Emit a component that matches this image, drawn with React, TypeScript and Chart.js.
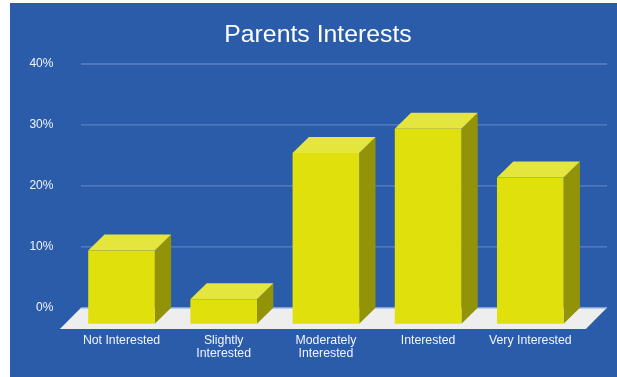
import React, { useEffect, useRef } from "react";
import { Chart, registerables } from "chart.js";

Chart.register(...registerables);

const categories = [
  "Not Interested",
  ["Slightly", "Interested"],
  ["Moderately", "Interested"],
  "Interested",
  "Very Interested",
];
const interestShare = [12, 4, 28, 32, 24];
const chartTitle = "Parents Interests";

const FONT = '"Liberation Sans", Arial, Helvetica, sans-serif';
const PANEL = "#2A5CAA";
const FRONT = "#E0E00D";
const TOP = "#E5E63D";
const SIDE = "#93930A";
const FLOOR = "#EEEEEE";
const GRID = "#5B82BF";
const BASELINE = "#80A4DE";
const TEXT = "#F2F5FB";

// Depth of the extruded bars and of the floor, in pixels.
const BAR_DEPTH_X = 16.3;
const BAR_DEPTH_Y = 16;
const GRID_LEFT = 81;
const GRID_RIGHT = 607;
const FLOOR_DEPTH = 21.2;

const polygon = (ctx: CanvasRenderingContext2D, pts: number[][], fill: string) => {
  ctx.beginPath();
  pts.forEach(([x, y], i) => (i ? ctx.lineTo(x, y) : ctx.moveTo(x, y)));
  ctx.closePath();
  ctx.fillStyle = fill;
  ctx.fill();
};

// Floor and back-wall rules, placed from the value axis.
const backdrop = {
  id: "backdrop",
  beforeDatasetsDraw(chart: any) {
    const { ctx, scales } = chart;
    const y0 = scales.y.getPixelForValue(0);
    ctx.save();
    polygon(
      ctx,
      [
        [GRID_LEFT, y0],
        [GRID_RIGHT, y0],
        [GRID_RIGHT - FLOOR_DEPTH, y0 + FLOOR_DEPTH],
        [GRID_LEFT - FLOOR_DEPTH, y0 + FLOOR_DEPTH],
      ],
      FLOOR
    );
    scales.y.ticks.forEach((tick: any) => {
      const y = scales.y.getPixelForValue(tick.value);
      ctx.beginPath();
      ctx.moveTo(GRID_LEFT, y);
      ctx.lineTo(GRID_RIGHT, y);
      ctx.strokeStyle = tick.value === 0 ? BASELINE : GRID;
      ctx.lineWidth = tick.value === 0 ? 1.5 : 1.3;
      ctx.stroke();
    });
    ctx.restore();
  },
};

// Adds a side and a top face to each bar, and drops the front face forward.
const extrude = {
  id: "extrude",
  beforeDatasetDraw(chart: any, args: any) {
    const { ctx } = chart;
    ctx.save();
    args.meta.data.forEach((bar: any) => {
      const { x, y, base, width } = bar.getProps(["x", "y", "base", "width"], true);
      const l = x - width / 2;
      const r = x + width / 2;
      const fy = y + BAR_DEPTH_Y;
      const fb = base + BAR_DEPTH_Y;
      polygon(ctx, [[r, fy], [r + BAR_DEPTH_X, y], [r + BAR_DEPTH_X, base], [r, fb]], SIDE);
      polygon(ctx, [[l, fy], [l + BAR_DEPTH_X, y], [r + BAR_DEPTH_X, y], [r, fy]], TOP);
    });
    ctx.translate(0, BAR_DEPTH_Y);
  },
  afterDatasetDraw(chart: any) {
    chart.ctx.restore();
  },
};

export default function App() {
  const ref = useRef<HTMLCanvasElement>(null);

  useEffect(() => {
    const chart = new Chart(ref.current!, {
      type: "bar",
      data: {
        labels: categories as any,
        datasets: [
          {
            data: interestShare,
            backgroundColor: FRONT,
            borderWidth: 0,
            categoryPercentage: 1,
            barPercentage: 0.652,
            clip: false as any,
          },
        ],
      },
      options: {
        responsive: false,
        animation: false,
        layout: { padding: { left: 19, right: 0, top: 20, bottom: 0 } },
        plugins: {
          legend: { display: false },
          tooltip: { enabled: false },
          title: {
            display: true,
            text: chartTitle,
            color: "#FFFFFF",
            font: { family: FONT, size: 24.8, weight: "normal" },
            padding: { top: 0, bottom: 14.24 },
          },
        },
        scales: {
          x: {
            grid: { display: false },
            border: { display: false },
            afterFit(scale: any) {
              scale.height = 69.3;
            },
            ticks: {
              color: TEXT,
              font: { family: FONT, size: 12.3, lineHeight: 1 },
              padding: 19,
              maxRotation: 0,
              autoSkip: false,
            },
          },
          y: {
            min: 0,
            max: 40,
            grid: { display: false, drawTicks: false },
            border: { display: false },
            afterFit(scale: any) {
              scale.width = 51.4;
            },
            ticks: {
              stepSize: 10,
              color: TEXT,
              font: { family: FONT, size: 12 },
              padding: 17,
              callback: (v: any) => `${v}%`,
            },
          },
          // Blank axis that holds the gutter on the right of the bars.
          gutter: {
            position: "right",
            grid: { display: false },
            border: { display: false },
            ticks: { display: false },
            afterFit(scale: any) {
              scale.width = 35.6;
            },
          },
        },
      },
      plugins: [backdrop, extrude],
    });
    return () => chart.destroy();
  }, []);

  return (
    <div style={{ position: "absolute", left: 0, top: 0, width: 617, height: 377, overflow: "hidden" }}>
      <div style={{ position: "absolute", left: 10, top: 3, width: 607, height: 374, background: PANEL }} />
      <canvas ref={ref} width={617} height={377} style={{ position: "absolute", left: 0, top: 0 }} />
    </div>
  );
}
